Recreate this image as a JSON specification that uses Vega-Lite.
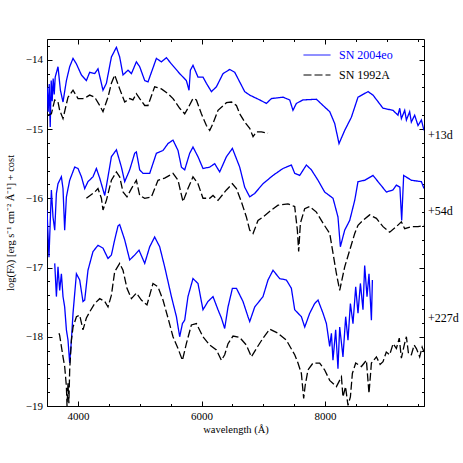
{
"$schema": "https://vega.github.io/schema/vega-lite/v6.json",
"width": 377, "height": 367,
"autosize": {"type": "none"},
"padding": {"left": 47, "top": 39, "right": 39, "bottom": 57},
"background": "white",
"config": {
  "view": {"stroke": null},
  "axis": {"labelFont": "Liberation Serif", "labelFontSize": 11, "labelColor": "black", "titleFont": "Liberation Serif", "titleFontSize": 10.5, "titleFontWeight": "normal", "titleColor": "black", "domainColor": "black", "tickColor": "black", "grid": false, "domainWidth": 1, "tickWidth": 1},
  "legend": {"labelFont": "Liberation Serif", "labelFontSize": 12}
},
"datasets": {
"spec": [
{"s":"SN 2004eo","e":"a","w":3503,"f":-14.40},{"s":"SN 2004eo","e":"a","w":3519,"f":-14.75},{"s":"SN 2004eo","e":"a","w":3536,"f":-14.35},{"s":"SN 2004eo","e":"a","w":3552,"f":-14.97},{"s":"SN 2004eo","e":"a","w":3568,"f":-14.30},{"s":"SN 2004eo","e":"a","w":3584,"f":-14.60},{"s":"SN 2004eo","e":"a","w":3600,"f":-14.27},{"s":"SN 2004eo","e":"a","w":3617,"f":-14.50},{"s":"SN 2004eo","e":"a","w":3633,"f":-14.25},{"s":"SN 2004eo","e":"a","w":3678,"f":-14.10},{"s":"SN 2004eo","e":"a","w":3717,"f":-14.44},{"s":"SN 2004eo","e":"a","w":3759,"f":-14.61},{"s":"SN 2004eo","e":"a","w":3814,"f":-14.30},{"s":"SN 2004eo","e":"a","w":3867,"f":-14.10},{"s":"SN 2004eo","e":"a","w":3921,"f":-13.98},{"s":"SN 2004eo","e":"a","w":3976,"f":-14.06},{"s":"SN 2004eo","e":"a","w":4057,"f":-14.22},{"s":"SN 2004eo","e":"a","w":4137,"f":-14.30},{"s":"SN 2004eo","e":"a","w":4191,"f":-14.18},{"s":"SN 2004eo","e":"a","w":4272,"f":-14.20},{"s":"SN 2004eo","e":"a","w":4325,"f":-14.13},{"s":"SN 2004eo","e":"a","w":4406,"f":-14.44},{"s":"SN 2004eo","e":"a","w":4461,"f":-14.34},{"s":"SN 2004eo","e":"a","w":4542,"f":-13.96},{"s":"SN 2004eo","e":"a","w":4623,"f":-13.82},{"s":"SN 2004eo","e":"a","w":4676,"f":-13.96},{"s":"SN 2004eo","e":"a","w":4730,"f":-14.22},{"s":"SN 2004eo","e":"a","w":4811,"f":-14.15},{"s":"SN 2004eo","e":"a","w":4866,"f":-14.20},{"s":"SN 2004eo","e":"a","w":4946,"f":-14.03},{"s":"SN 2004eo","e":"a","w":5000,"f":-14.10},{"s":"SN 2004eo","e":"a","w":5081,"f":-14.30},{"s":"SN 2004eo","e":"a","w":5134,"f":-14.32},{"s":"SN 2004eo","e":"a","w":5270,"f":-13.98},{"s":"SN 2004eo","e":"a","w":5351,"f":-14.03},{"s":"SN 2004eo","e":"a","w":5432,"f":-13.97},{"s":"SN 2004eo","e":"a","w":5513,"f":-14.06},{"s":"SN 2004eo","e":"a","w":5647,"f":-14.20},{"s":"SN 2004eo","e":"a","w":5755,"f":-14.30},{"s":"SN 2004eo","e":"a","w":5798,"f":-14.44},{"s":"SN 2004eo","e":"a","w":5820,"f":-14.15},{"s":"SN 2004eo","e":"a","w":5862,"f":-14.08},{"s":"SN 2004eo","e":"a","w":5943,"f":-14.25},{"s":"SN 2004eo","e":"a","w":6024,"f":-14.25},{"s":"SN 2004eo","e":"a","w":6079,"f":-14.34},{"s":"SN 2004eo","e":"a","w":6160,"f":-14.46},{"s":"SN 2004eo","e":"a","w":6241,"f":-14.39},{"s":"SN 2004eo","e":"a","w":6348,"f":-14.20},{"s":"SN 2004eo","e":"a","w":6456,"f":-14.14},{"s":"SN 2004eo","e":"a","w":6537,"f":-14.18},{"s":"SN 2004eo","e":"a","w":6618,"f":-14.32},{"s":"SN 2004eo","e":"a","w":6699,"f":-14.46},{"s":"SN 2004eo","e":"a","w":6780,"f":-14.51},{"s":"SN 2004eo","e":"a","w":6942,"f":-14.58},{"s":"SN 2004eo","e":"a","w":7050,"f":-14.63},{"s":"SN 2004eo","e":"a","w":7131,"f":-14.56},{"s":"SN 2004eo","e":"a","w":7318,"f":-14.54},{"s":"SN 2004eo","e":"a","w":7427,"f":-14.58},{"s":"SN 2004eo","e":"a","w":7480,"f":-14.73},{"s":"SN 2004eo","e":"a","w":7535,"f":-14.63},{"s":"SN 2004eo","e":"a","w":7642,"f":-14.58},{"s":"SN 2004eo","e":"a","w":7859,"f":-14.57},{"s":"SN 2004eo","e":"a","w":7966,"f":-14.66},{"s":"SN 2004eo","e":"a","w":8075,"f":-14.75},{"s":"SN 2004eo","e":"a","w":8155,"f":-14.92},{"s":"SN 2004eo","e":"a","w":8225,"f":-15.21},{"s":"SN 2004eo","e":"a","w":8317,"f":-15.02},{"s":"SN 2004eo","e":"a","w":8425,"f":-14.83},{"s":"SN 2004eo","e":"a","w":8532,"f":-14.54},{"s":"SN 2004eo","e":"a","w":8694,"f":-14.46},{"s":"SN 2004eo","e":"a","w":8775,"f":-14.51},{"s":"SN 2004eo","e":"a","w":8937,"f":-14.70},{"s":"SN 2004eo","e":"a","w":9098,"f":-14.73},{"s":"SN 2004eo","e":"a","w":9179,"f":-14.80},{"s":"SN 2004eo","e":"a","w":9207,"f":-14.70},{"s":"SN 2004eo","e":"a","w":9234,"f":-14.85},{"s":"SN 2004eo","e":"a","w":9288,"f":-14.73},{"s":"SN 2004eo","e":"a","w":9315,"f":-14.87},{"s":"SN 2004eo","e":"a","w":9368,"f":-14.75},{"s":"SN 2004eo","e":"a","w":9395,"f":-14.90},{"s":"SN 2004eo","e":"a","w":9449,"f":-14.80},{"s":"SN 2004eo","e":"a","w":9503,"f":-14.95},{"s":"SN 2004eo","e":"a","w":9558,"f":-14.87},{"s":"SN 2004eo","e":"a","w":9600,"f":-15.02},
{"s":"SN 1992A","e":"b","w":3516,"f":-14.80},{"s":"SN 1992A","e":"b","w":3571,"f":-14.78},{"s":"SN 1992A","e":"b","w":3625,"f":-14.58},{"s":"SN 1992A","e":"b","w":3678,"f":-14.61},{"s":"SN 1992A","e":"b","w":3705,"f":-14.73},{"s":"SN 1992A","e":"b","w":3759,"f":-14.85},{"s":"SN 1992A","e":"b","w":3840,"f":-14.54},{"s":"SN 1992A","e":"b","w":3921,"f":-14.44},{"s":"SN 1992A","e":"b","w":4002,"f":-14.56},{"s":"SN 1992A","e":"b","w":4082,"f":-14.56},{"s":"SN 1992A","e":"b","w":4137,"f":-14.54},{"s":"SN 1992A","e":"b","w":4191,"f":-14.51},{"s":"SN 1992A","e":"b","w":4272,"f":-14.54},{"s":"SN 1992A","e":"b","w":4353,"f":-14.66},{"s":"SN 1992A","e":"b","w":4406,"f":-14.75},{"s":"SN 1992A","e":"b","w":4487,"f":-14.54},{"s":"SN 1992A","e":"b","w":4542,"f":-14.34},{"s":"SN 1992A","e":"b","w":4595,"f":-14.22},{"s":"SN 1992A","e":"b","w":4676,"f":-14.42},{"s":"SN 1992A","e":"b","w":4757,"f":-14.61},{"s":"SN 1992A","e":"b","w":4838,"f":-14.56},{"s":"SN 1992A","e":"b","w":4891,"f":-14.58},{"s":"SN 1992A","e":"b","w":4946,"f":-14.49},{"s":"SN 1992A","e":"b","w":5000,"f":-14.56},{"s":"SN 1992A","e":"b","w":5081,"f":-14.66},{"s":"SN 1992A","e":"b","w":5134,"f":-14.66},{"s":"SN 1992A","e":"b","w":5242,"f":-14.39},{"s":"SN 1992A","e":"b","w":5351,"f":-14.42},{"s":"SN 1992A","e":"b","w":5458,"f":-14.49},{"s":"SN 1992A","e":"b","w":5539,"f":-14.56},{"s":"SN 1992A","e":"b","w":5647,"f":-14.70},{"s":"SN 1992A","e":"b","w":5728,"f":-14.78},{"s":"SN 1992A","e":"b","w":5781,"f":-14.70},{"s":"SN 1992A","e":"b","w":5862,"f":-14.56},{"s":"SN 1992A","e":"b","w":5917,"f":-14.58},{"s":"SN 1992A","e":"b","w":5998,"f":-14.78},{"s":"SN 1992A","e":"b","w":6079,"f":-14.95},{"s":"SN 1992A","e":"b","w":6133,"f":-15.02},{"s":"SN 1992A","e":"b","w":6186,"f":-14.92},{"s":"SN 1992A","e":"b","w":6267,"f":-14.73},{"s":"SN 1992A","e":"b","w":6403,"f":-14.62},{"s":"SN 1992A","e":"b","w":6484,"f":-14.61},{"s":"SN 1992A","e":"b","w":6565,"f":-14.66},{"s":"SN 1992A","e":"b","w":6618,"f":-14.78},{"s":"SN 1992A","e":"b","w":6699,"f":-14.90},{"s":"SN 1992A","e":"b","w":6780,"f":-14.99},{"s":"SN 1992A","e":"b","w":6834,"f":-15.11},{"s":"SN 1992A","e":"b","w":6888,"f":-15.04},{"s":"SN 1992A","e":"b","w":6969,"f":-15.04},{"s":"SN 1992A","e":"b","w":7076,"f":-15.06},
{"s":"SN 2004eo","e":"c","w":3500,"f":-16.17},{"s":"SN 2004eo","e":"c","w":3532,"f":-16.85},{"s":"SN 2004eo","e":"c","w":3571,"f":-15.88},{"s":"SN 2004eo","e":"c","w":3597,"f":-16.27},{"s":"SN 2004eo","e":"c","w":3625,"f":-16.46},{"s":"SN 2004eo","e":"c","w":3652,"f":-15.93},{"s":"SN 2004eo","e":"c","w":3678,"f":-15.79},{"s":"SN 2004eo","e":"c","w":3705,"f":-15.74},{"s":"SN 2004eo","e":"c","w":3733,"f":-15.69},{"s":"SN 2004eo","e":"c","w":3759,"f":-15.86},{"s":"SN 2004eo","e":"c","w":3786,"f":-16.46},{"s":"SN 2004eo","e":"c","w":3814,"f":-15.98},{"s":"SN 2004eo","e":"c","w":3867,"f":-15.74},{"s":"SN 2004eo","e":"c","w":3948,"f":-15.55},{"s":"SN 2004eo","e":"c","w":4002,"f":-15.57},{"s":"SN 2004eo","e":"c","w":4057,"f":-15.69},{"s":"SN 2004eo","e":"c","w":4110,"f":-15.86},{"s":"SN 2004eo","e":"c","w":4163,"f":-15.76},{"s":"SN 2004eo","e":"c","w":4244,"f":-15.69},{"s":"SN 2004eo","e":"c","w":4299,"f":-15.57},{"s":"SN 2004eo","e":"c","w":4353,"f":-15.71},{"s":"SN 2004eo","e":"c","w":4434,"f":-15.96},{"s":"SN 2004eo","e":"c","w":4487,"f":-15.69},{"s":"SN 2004eo","e":"c","w":4542,"f":-15.40},{"s":"SN 2004eo","e":"c","w":4623,"f":-15.30},{"s":"SN 2004eo","e":"c","w":4704,"f":-15.55},{"s":"SN 2004eo","e":"c","w":4757,"f":-15.76},{"s":"SN 2004eo","e":"c","w":4838,"f":-15.59},{"s":"SN 2004eo","e":"c","w":4919,"f":-15.35},{"s":"SN 2004eo","e":"c","w":4946,"f":-15.33},{"s":"SN 2004eo","e":"c","w":5000,"f":-15.59},{"s":"SN 2004eo","e":"c","w":5053,"f":-15.64},{"s":"SN 2004eo","e":"c","w":5162,"f":-15.64},{"s":"SN 2004eo","e":"c","w":5270,"f":-15.35},{"s":"SN 2004eo","e":"c","w":5377,"f":-15.31},{"s":"SN 2004eo","e":"c","w":5458,"f":-15.21},{"s":"SN 2004eo","e":"c","w":5539,"f":-15.16},{"s":"SN 2004eo","e":"c","w":5620,"f":-15.31},{"s":"SN 2004eo","e":"c","w":5675,"f":-15.55},{"s":"SN 2004eo","e":"c","w":5728,"f":-15.59},{"s":"SN 2004eo","e":"c","w":5809,"f":-15.35},{"s":"SN 2004eo","e":"c","w":5862,"f":-15.26},{"s":"SN 2004eo","e":"c","w":5943,"f":-15.40},{"s":"SN 2004eo","e":"c","w":6024,"f":-15.57},{"s":"SN 2004eo","e":"c","w":6133,"f":-15.55},{"s":"SN 2004eo","e":"c","w":6213,"f":-15.50},{"s":"SN 2004eo","e":"c","w":6294,"f":-15.62},{"s":"SN 2004eo","e":"c","w":6403,"f":-15.40},{"s":"SN 2004eo","e":"c","w":6500,"f":-15.28},{"s":"SN 2004eo","e":"c","w":6618,"f":-15.55},{"s":"SN 2004eo","e":"c","w":6699,"f":-15.84},{"s":"SN 2004eo","e":"c","w":6780,"f":-15.98},{"s":"SN 2004eo","e":"c","w":6861,"f":-15.93},{"s":"SN 2004eo","e":"c","w":6995,"f":-15.79},{"s":"SN 2004eo","e":"c","w":7157,"f":-15.67},{"s":"SN 2004eo","e":"c","w":7318,"f":-15.57},{"s":"SN 2004eo","e":"c","w":7454,"f":-15.52},{"s":"SN 2004eo","e":"c","w":7508,"f":-15.64},{"s":"SN 2004eo","e":"c","w":7589,"f":-15.67},{"s":"SN 2004eo","e":"c","w":7697,"f":-15.52},{"s":"SN 2004eo","e":"c","w":7778,"f":-15.59},{"s":"SN 2004eo","e":"c","w":7885,"f":-15.74},{"s":"SN 2004eo","e":"c","w":7993,"f":-15.91},{"s":"SN 2004eo","e":"c","w":8128,"f":-16.00},{"s":"SN 2004eo","e":"c","w":8208,"f":-16.27},{"s":"SN 2004eo","e":"c","w":8247,"f":-16.70},{"s":"SN 2004eo","e":"c","w":8317,"f":-16.46},{"s":"SN 2004eo","e":"c","w":8398,"f":-16.32},{"s":"SN 2004eo","e":"c","w":8479,"f":-16.03},{"s":"SN 2004eo","e":"c","w":8532,"f":-15.76},{"s":"SN 2004eo","e":"c","w":8640,"f":-15.74},{"s":"SN 2004eo","e":"c","w":8775,"f":-15.67},{"s":"SN 2004eo","e":"c","w":8883,"f":-15.79},{"s":"SN 2004eo","e":"c","w":8992,"f":-15.91},{"s":"SN 2004eo","e":"c","w":9098,"f":-15.88},{"s":"SN 2004eo","e":"c","w":9153,"f":-15.81},{"s":"SN 2004eo","e":"c","w":9210,"f":-15.84},{"s":"SN 2004eo","e":"c","w":9239,"f":-16.32},{"s":"SN 2004eo","e":"c","w":9271,"f":-15.67},{"s":"SN 2004eo","e":"c","w":9396,"f":-15.74},{"s":"SN 2004eo","e":"c","w":9558,"f":-15.76},{"s":"SN 2004eo","e":"c","w":9600,"f":-15.86},
{"s":"SN 1992A","e":"d","w":4137,"f":-16.00},{"s":"SN 1992A","e":"d","w":4272,"f":-15.91},{"s":"SN 1992A","e":"d","w":4325,"f":-15.86},{"s":"SN 1992A","e":"d","w":4380,"f":-16.00},{"s":"SN 1992A","e":"d","w":4406,"f":-16.17},{"s":"SN 1992A","e":"d","w":4461,"f":-16.03},{"s":"SN 1992A","e":"d","w":4542,"f":-15.74},{"s":"SN 1992A","e":"d","w":4623,"f":-15.62},{"s":"SN 1992A","e":"d","w":4676,"f":-15.69},{"s":"SN 1992A","e":"d","w":4730,"f":-15.91},{"s":"SN 1992A","e":"d","w":4794,"f":-15.98},{"s":"SN 1992A","e":"d","w":4866,"f":-15.86},{"s":"SN 1992A","e":"d","w":4946,"f":-15.74},{"s":"SN 1992A","e":"d","w":5000,"f":-15.96},{"s":"SN 1992A","e":"d","w":5081,"f":-16.00},{"s":"SN 1992A","e":"d","w":5189,"f":-15.98},{"s":"SN 1992A","e":"d","w":5296,"f":-15.74},{"s":"SN 1992A","e":"d","w":5404,"f":-15.71},{"s":"SN 1992A","e":"d","w":5539,"f":-15.64},{"s":"SN 1992A","e":"d","w":5620,"f":-15.74},{"s":"SN 1992A","e":"d","w":5700,"f":-16.05},{"s":"SN 1992A","e":"d","w":5781,"f":-15.86},{"s":"SN 1992A","e":"d","w":5862,"f":-15.69},{"s":"SN 1992A","e":"d","w":5943,"f":-15.79},{"s":"SN 1992A","e":"d","w":6024,"f":-16.00},{"s":"SN 1992A","e":"d","w":6133,"f":-16.00},{"s":"SN 1992A","e":"d","w":6186,"f":-15.96},{"s":"SN 1992A","e":"d","w":6267,"f":-16.03},{"s":"SN 1992A","e":"d","w":6403,"f":-15.88},{"s":"SN 1992A","e":"d","w":6500,"f":-15.79},{"s":"SN 1992A","e":"d","w":6565,"f":-15.86},{"s":"SN 1992A","e":"d","w":6645,"f":-16.05},{"s":"SN 1992A","e":"d","w":6726,"f":-16.27},{"s":"SN 1992A","e":"d","w":6780,"f":-16.46},{"s":"SN 1992A","e":"d","w":6834,"f":-16.51},{"s":"SN 1992A","e":"d","w":6914,"f":-16.32},{"s":"SN 1992A","e":"d","w":6995,"f":-16.27},{"s":"SN 1992A","e":"d","w":7131,"f":-16.17},{"s":"SN 1992A","e":"d","w":7238,"f":-16.10},{"s":"SN 1992A","e":"d","w":7399,"f":-16.08},{"s":"SN 1992A","e":"d","w":7508,"f":-16.12},{"s":"SN 1992A","e":"d","w":7551,"f":-16.46},{"s":"SN 1992A","e":"d","w":7572,"f":-16.77},{"s":"SN 1992A","e":"d","w":7600,"f":-16.36},{"s":"SN 1992A","e":"d","w":7670,"f":-16.15},{"s":"SN 1992A","e":"d","w":7751,"f":-16.12},{"s":"SN 1992A","e":"d","w":7859,"f":-16.20},{"s":"SN 1992A","e":"d","w":7966,"f":-16.36},{"s":"SN 1992A","e":"d","w":8075,"f":-16.51},{"s":"SN 1992A","e":"d","w":8183,"f":-17.09},{"s":"SN 1992A","e":"d","w":8236,"f":-17.33},{"s":"SN 1992A","e":"d","w":8317,"f":-16.99},{"s":"SN 1992A","e":"d","w":8398,"f":-16.75},{"s":"SN 1992A","e":"d","w":8479,"f":-16.51},{"s":"SN 1992A","e":"d","w":8532,"f":-16.39},{"s":"SN 1992A","e":"d","w":8613,"f":-16.32},{"s":"SN 1992A","e":"d","w":8721,"f":-16.24},{"s":"SN 1992A","e":"d","w":8830,"f":-16.29},{"s":"SN 1992A","e":"d","w":8937,"f":-16.41},{"s":"SN 1992A","e":"d","w":9045,"f":-16.49},{"s":"SN 1992A","e":"d","w":9153,"f":-16.41},{"s":"SN 1992A","e":"d","w":9234,"f":-16.34},{"s":"SN 1992A","e":"d","w":9288,"f":-16.44},{"s":"SN 1992A","e":"d","w":9395,"f":-16.41},{"s":"SN 1992A","e":"d","w":9503,"f":-16.41},{"s":"SN 1992A","e":"d","w":9600,"f":-16.39},
{"s":"SN 2004eo","e":"e","w":3625,"f":-16.94},{"s":"SN 2004eo","e":"e","w":3652,"f":-17.42},{"s":"SN 2004eo","e":"e","w":3678,"f":-16.99},{"s":"SN 2004eo","e":"e","w":3705,"f":-17.33},{"s":"SN 2004eo","e":"e","w":3733,"f":-17.09},{"s":"SN 2004eo","e":"e","w":3759,"f":-17.42},{"s":"SN 2004eo","e":"e","w":3786,"f":-17.57},{"s":"SN 2004eo","e":"e","w":3814,"f":-17.90},{"s":"SN 2004eo","e":"e","w":3840,"f":-18.05},{"s":"SN 2004eo","e":"e","w":3867,"f":-18.38},{"s":"SN 2004eo","e":"e","w":3895,"f":-18.05},{"s":"SN 2004eo","e":"e","w":3921,"f":-17.66},{"s":"SN 2004eo","e":"e","w":3976,"f":-17.09},{"s":"SN 2004eo","e":"e","w":4029,"f":-17.18},{"s":"SN 2004eo","e":"e","w":4082,"f":-17.49},{"s":"SN 2004eo","e":"e","w":4110,"f":-17.47},{"s":"SN 2004eo","e":"e","w":4163,"f":-17.04},{"s":"SN 2004eo","e":"e","w":4244,"f":-16.77},{"s":"SN 2004eo","e":"e","w":4325,"f":-16.68},{"s":"SN 2004eo","e":"e","w":4406,"f":-16.72},{"s":"SN 2004eo","e":"e","w":4487,"f":-16.87},{"s":"SN 2004eo","e":"e","w":4542,"f":-16.82},{"s":"SN 2004eo","e":"e","w":4595,"f":-16.60},{"s":"SN 2004eo","e":"e","w":4649,"f":-16.40},{"s":"SN 2004eo","e":"e","w":4676,"f":-16.38},{"s":"SN 2004eo","e":"e","w":4757,"f":-16.60},{"s":"SN 2004eo","e":"e","w":4838,"f":-16.89},{"s":"SN 2004eo","e":"e","w":4919,"f":-16.82},{"s":"SN 2004eo","e":"e","w":4989,"f":-16.75},{"s":"SN 2004eo","e":"e","w":5081,"f":-16.94},{"s":"SN 2004eo","e":"e","w":5162,"f":-16.70},{"s":"SN 2004eo","e":"e","w":5242,"f":-16.56},{"s":"SN 2004eo","e":"e","w":5323,"f":-16.70},{"s":"SN 2004eo","e":"e","w":5404,"f":-16.99},{"s":"SN 2004eo","e":"e","w":5513,"f":-17.42},{"s":"SN 2004eo","e":"e","w":5594,"f":-17.71},{"s":"SN 2004eo","e":"e","w":5647,"f":-18.00},{"s":"SN 2004eo","e":"e","w":5691,"f":-17.81},{"s":"SN 2004eo","e":"e","w":5728,"f":-17.76},{"s":"SN 2004eo","e":"e","w":5781,"f":-17.42},{"s":"SN 2004eo","e":"e","w":5862,"f":-17.16},{"s":"SN 2004eo","e":"e","w":5943,"f":-17.23},{"s":"SN 2004eo","e":"e","w":6024,"f":-17.61},{"s":"SN 2004eo","e":"e","w":6105,"f":-17.49},{"s":"SN 2004eo","e":"e","w":6186,"f":-17.42},{"s":"SN 2004eo","e":"e","w":6267,"f":-17.61},{"s":"SN 2004eo","e":"e","w":6322,"f":-17.73},{"s":"SN 2004eo","e":"e","w":6375,"f":-17.88},{"s":"SN 2004eo","e":"e","w":6429,"f":-17.57},{"s":"SN 2004eo","e":"e","w":6500,"f":-17.30},{"s":"SN 2004eo","e":"e","w":6565,"f":-17.30},{"s":"SN 2004eo","e":"e","w":6671,"f":-17.49},{"s":"SN 2004eo","e":"e","w":6752,"f":-17.71},{"s":"SN 2004eo","e":"e","w":6780,"f":-17.78},{"s":"SN 2004eo","e":"e","w":6861,"f":-17.57},{"s":"SN 2004eo","e":"e","w":6995,"f":-17.42},{"s":"SN 2004eo","e":"e","w":7076,"f":-17.18},{"s":"SN 2004eo","e":"e","w":7157,"f":-17.04},{"s":"SN 2004eo","e":"e","w":7265,"f":-17.16},{"s":"SN 2004eo","e":"e","w":7373,"f":-17.18},{"s":"SN 2004eo","e":"e","w":7454,"f":-17.30},{"s":"SN 2004eo","e":"e","w":7508,"f":-17.61},{"s":"SN 2004eo","e":"e","w":7616,"f":-17.71},{"s":"SN 2004eo","e":"e","w":7670,"f":-17.86},{"s":"SN 2004eo","e":"e","w":7751,"f":-17.66},{"s":"SN 2004eo","e":"e","w":7831,"f":-17.52},{"s":"SN 2004eo","e":"e","w":7885,"f":-17.47},{"s":"SN 2004eo","e":"e","w":7966,"f":-17.66},{"s":"SN 2004eo","e":"e","w":8021,"f":-17.81},{"s":"SN 2004eo","e":"e","w":8074,"f":-18.14},{"s":"SN 2004eo","e":"e","w":8102,"f":-17.95},{"s":"SN 2004eo","e":"e","w":8127,"f":-18.34},{"s":"SN 2004eo","e":"e","w":8171,"f":-17.90},{"s":"SN 2004eo","e":"e","w":8208,"f":-18.46},{"s":"SN 2004eo","e":"e","w":8236,"f":-17.86},{"s":"SN 2004eo","e":"e","w":8289,"f":-18.29},{"s":"SN 2004eo","e":"e","w":8333,"f":-17.71},{"s":"SN 2004eo","e":"e","w":8370,"f":-18.05},{"s":"SN 2004eo","e":"e","w":8409,"f":-17.52},{"s":"SN 2004eo","e":"e","w":8451,"f":-17.81},{"s":"SN 2004eo","e":"e","w":8495,"f":-17.28},{"s":"SN 2004eo","e":"e","w":8532,"f":-17.66},{"s":"SN 2004eo","e":"e","w":8571,"f":-17.23},{"s":"SN 2004eo","e":"e","w":8613,"f":-17.61},{"s":"SN 2004eo","e":"e","w":8640,"f":-16.97},{"s":"SN 2004eo","e":"e","w":8678,"f":-17.42},{"s":"SN 2004eo","e":"e","w":8710,"f":-17.09},{"s":"SN 2004eo","e":"e","w":8749,"f":-17.76},{"s":"SN 2004eo","e":"e","w":8765,"f":-17.18},
{"s":"SN 1992A","e":"f","w":3694,"f":-17.95},{"s":"SN 1992A","e":"f","w":3705,"f":-17.98},{"s":"SN 1992A","e":"f","w":3759,"f":-18.29},{"s":"SN 1992A","e":"f","w":3786,"f":-18.43},{"s":"SN 1992A","e":"f","w":3814,"f":-18.72},{"s":"SN 1992A","e":"f","w":3824,"f":-19.0},{"s":"SN 1992A","e":"f","w":3840,"f":-18.67},{"s":"SN 1992A","e":"f","w":3854,"f":-18.96},{"s":"SN 1992A","e":"f","w":3867,"f":-18.48},{"s":"SN 1992A","e":"f","w":3895,"f":-18.05},{"s":"SN 1992A","e":"f","w":3921,"f":-17.86},{"s":"SN 1992A","e":"f","w":3976,"f":-17.71},{"s":"SN 1992A","e":"f","w":4029,"f":-17.69},{"s":"SN 1992A","e":"f","w":4082,"f":-17.90},{"s":"SN 1992A","e":"f","w":4137,"f":-17.73},{"s":"SN 1992A","e":"f","w":4191,"f":-17.64},{"s":"SN 1992A","e":"f","w":4272,"f":-17.52},{"s":"SN 1992A","e":"f","w":4353,"f":-17.45},{"s":"SN 1992A","e":"f","w":4434,"f":-17.49},{"s":"SN 1992A","e":"f","w":4487,"f":-17.57},{"s":"SN 1992A","e":"f","w":4542,"f":-17.40},{"s":"SN 1992A","e":"f","w":4595,"f":-17.06},{"s":"SN 1992A","e":"f","w":4676,"f":-16.94},{"s":"SN 1992A","e":"f","w":4730,"f":-17.04},{"s":"SN 1992A","e":"f","w":4794,"f":-17.30},{"s":"SN 1992A","e":"f","w":4866,"f":-17.45},{"s":"SN 1992A","e":"f","w":4946,"f":-17.37},{"s":"SN 1992A","e":"f","w":5027,"f":-17.47},{"s":"SN 1992A","e":"f","w":5118,"f":-17.54},{"s":"SN 1992A","e":"f","w":5215,"f":-17.23},{"s":"SN 1992A","e":"f","w":5296,"f":-17.28},{"s":"SN 1992A","e":"f","w":5377,"f":-17.47},{"s":"SN 1992A","e":"f","w":5458,"f":-17.73},{"s":"SN 1992A","e":"f","w":5539,"f":-18.00},{"s":"SN 1992A","e":"f","w":5620,"f":-18.17},{"s":"SN 1992A","e":"f","w":5691,"f":-18.34},{"s":"SN 1992A","e":"f","w":5755,"f":-18.10},{"s":"SN 1992A","e":"f","w":5836,"f":-17.83},{"s":"SN 1992A","e":"f","w":5917,"f":-17.81},{"s":"SN 1992A","e":"f","w":6024,"f":-18.00},{"s":"SN 1992A","e":"f","w":6133,"f":-18.12},{"s":"SN 1992A","e":"f","w":6241,"f":-18.19},{"s":"SN 1992A","e":"f","w":6322,"f":-18.34},{"s":"SN 1992A","e":"f","w":6375,"f":-18.26},{"s":"SN 1992A","e":"f","w":6429,"f":-18.10},{"s":"SN 1992A","e":"f","w":6510,"f":-17.99},{"s":"SN 1992A","e":"f","w":6618,"f":-18.01},{"s":"SN 1992A","e":"f","w":6726,"f":-18.12},{"s":"SN 1992A","e":"f","w":6807,"f":-18.29},{"s":"SN 1992A","e":"f","w":6888,"f":-18.17},{"s":"SN 1992A","e":"f","w":6995,"f":-18.02},{"s":"SN 1992A","e":"f","w":7103,"f":-17.89},{"s":"SN 1992A","e":"f","w":7238,"f":-17.95},{"s":"SN 1992A","e":"f","w":7373,"f":-18.05},{"s":"SN 1992A","e":"f","w":7508,"f":-18.26},{"s":"SN 1992A","e":"f","w":7561,"f":-18.38},{"s":"SN 1992A","e":"f","w":7616,"f":-18.53},{"s":"SN 1992A","e":"f","w":7653,"f":-18.89},{"s":"SN 1992A","e":"f","w":7678,"f":-18.70},{"s":"SN 1992A","e":"f","w":7723,"f":-18.48},{"s":"SN 1992A","e":"f","w":7804,"f":-18.38},{"s":"SN 1992A","e":"f","w":7912,"f":-18.38},{"s":"SN 1992A","e":"f","w":7993,"f":-18.48},{"s":"SN 1992A","e":"f","w":8074,"f":-18.63},{"s":"SN 1992A","e":"f","w":8183,"f":-18.72},{"s":"SN 1992A","e":"f","w":8264,"f":-18.58},{"s":"SN 1992A","e":"f","w":8289,"f":-18.87},{"s":"SN 1992A","e":"f","w":8330,"f":-18.72},{"s":"SN 1992A","e":"f","w":8370,"f":-18.99},{"s":"SN 1992A","e":"f","w":8409,"f":-18.87},{"s":"SN 1992A","e":"f","w":8441,"f":-18.53},{"s":"SN 1992A","e":"f","w":8495,"f":-18.38},{"s":"SN 1992A","e":"f","w":8587,"f":-18.43},{"s":"SN 1992A","e":"f","w":8668,"f":-18.34},{"s":"SN 1992A","e":"f","w":8710,"f":-18.82},{"s":"SN 1992A","e":"f","w":8749,"f":-18.38},{"s":"SN 1992A","e":"f","w":8830,"f":-18.29},{"s":"SN 1992A","e":"f","w":8890,"f":-18.40},{"s":"SN 1992A","e":"f","w":8937,"f":-18.36},{"s":"SN 1992A","e":"f","w":8990,"f":-18.22},{"s":"SN 1992A","e":"f","w":9045,"f":-18.26},{"s":"SN 1992A","e":"f","w":9100,"f":-18.10},{"s":"SN 1992A","e":"f","w":9153,"f":-18.17},{"s":"SN 1992A","e":"f","w":9200,"f":-18.02},{"s":"SN 1992A","e":"f","w":9234,"f":-18.31},{"s":"SN 1992A","e":"f","w":9280,"f":-18.12},{"s":"SN 1992A","e":"f","w":9315,"f":-18.00},{"s":"SN 1992A","e":"f","w":9350,"f":-18.25},{"s":"SN 1992A","e":"f","w":9396,"f":-18.26},{"s":"SN 1992A","e":"f","w":9440,"f":-18.12},{"s":"SN 1992A","e":"f","w":9477,"f":-18.17},{"s":"SN 1992A","e":"f","w":9530,"f":-18.29},{"s":"SN 1992A","e":"f","w":9570,"f":-18.15},{"s":"SN 1992A","e":"f","w":9600,"f":-18.22}
],
"lab": [
{"w":9600,"f":-15.09,"t":"+13d"},
{"w":9600,"f":-16.19,"t":"+54d"},
{"w":9600,"f":-17.73,"t":"+227d"}
]
},
"resolve": {"axis": {"x": "independent", "y": "independent"}},
"layer": [
{
  "data": {"name": "spec"},
  "mark": {"type": "line", "strokeWidth": 1.3, "clip": true, "interpolate": "linear"},
  "encoding": {
    "x": {"field": "w", "type": "quantitative", "scale": {"domain": [3500, 9600], "nice": false, "zero": false},
      "axis": {"orient": "bottom", "title": "wavelength (Å)", "values": [3500,4000,4500,5000,5500,6000,6500,7000,7500,8000,8500,9000,9500], "labelExpr": "datum.value == 4000 || datum.value == 6000 || datum.value == 8000 ? datum.value : ''", "tickSize": -2.5, "labelPadding": 7, "titlePadding": 3, "labelFlush": false, "labelOverlap": false}},
    "y": {"field": "f", "type": "quantitative", "scale": {"domain": [-19, -13.7], "nice": false, "zero": false},
      "axis": {"orient": "left", "title": "log(F\u03bb) [erg s\u207b\u00b9 cm\u207b\u00b2 \u00c5\u207b\u00b9] + cost", "values": [-19,-18.8,-18.6,-18.4,-18.2,-18,-17.8,-17.6,-17.4,-17.2,-17,-16.8,-16.6,-16.4,-16.2,-16,-15.8,-15.6,-15.4,-15.2,-15,-14.8,-14.6,-14.4,-14.2,-14,-13.8], "labelExpr": "abs(datum.value - round(datum.value)) < 0.01 ? format(datum.value, 'd') : ''", "tickSize": -2.5, "labelPadding": 7, "titlePadding": 10, "labelFlush": false, "labelOverlap": false}},
    "detail": {"field": "e"},
    "color": {"field": "s", "type": "nominal", "scale": {"domain": ["SN 2004eo", "SN 1992A"], "range": ["#0000ff", "#000000"]},
      "legend": {"title": null, "orient": "none", "legendX": 256, "legendY": 2, "symbolType": "stroke", "symbolSize": 729, "symbolStrokeWidth": 1, "labelOffset": 8, "rowPadding": -6, "labelFontSize": 12, "labelFont": "Liberation Serif",
        "encode": {"labels": {"update": {"fill": {"signal": "datum.label == 'SN 2004eo' ? '#0000ff' : '#000000'"}}}}}},
    "strokeDash": {"field": "s", "type": "nominal", "scale": {"domain": ["SN 2004eo", "SN 1992A"], "range": [[1, 0], [8, 3]]}, "legend": null}
  }
},
{
  "data": {"name": "lab"},
  "mark": {"type": "text", "align": "left", "baseline": "middle", "dx": 4, "font": "Liberation Serif", "fontSize": 12, "color": "#000000"},
  "encoding": {
    "x": {"field": "w", "type": "quantitative", "scale": {"domain": [3500, 9600], "nice": false, "zero": false},
      "axis": {"orient": "top", "title": null, "labels": false, "values": [3500,4000,4500,5000,5500,6000,6500,7000,7500,8000,8500,9000,9500], "tickSize": -2.5}},
    "y": {"field": "f", "type": "quantitative", "scale": {"domain": [-19, -13.7], "nice": false, "zero": false},
      "axis": {"orient": "right", "title": null, "labels": false, "values": [-19,-18.8,-18.6,-18.4,-18.2,-18,-17.8,-17.6,-17.4,-17.2,-17,-16.8,-16.6,-16.4,-16.2,-16,-15.8,-15.6,-15.4,-15.2,-15,-14.8,-14.6,-14.4,-14.2,-14,-13.8], "tickSize": -2.5}},
    "text": {"field": "t"}
  }
},
{
  "data": {"name": "lab"},
  "mark": {"type": "point", "opacity": 0},
  "encoding": {
    "x": {"field": "w", "type": "quantitative", "scale": {"domain": [3500, 9600], "nice": false, "zero": false},
      "axis": {"orient": "bottom", "title": null, "labels": false, "domain": false, "values": [4000, 6000, 8000], "tickSize": -5}},
    "y": {"field": "f", "type": "quantitative", "scale": {"domain": [-19, -13.7], "nice": false, "zero": false},
      "axis": {"orient": "left", "title": null, "labels": false, "domain": false, "values": [-19, -18, -17, -16, -15, -14], "tickSize": -5}}
  }
},
{
  "data": {"name": "lab"},
  "mark": {"type": "point", "opacity": 0},
  "encoding": {
    "x": {"field": "w", "type": "quantitative", "scale": {"domain": [3500, 9600], "nice": false, "zero": false},
      "axis": {"orient": "top", "title": null, "labels": false, "domain": false, "values": [4000, 6000, 8000], "tickSize": -5}},
    "y": {"field": "f", "type": "quantitative", "scale": {"domain": [-19, -13.7], "nice": false, "zero": false},
      "axis": {"orient": "right", "title": null, "labels": false, "domain": false, "values": [-19, -18, -17, -16, -15, -14], "tickSize": -5}}
  }
}
]
}
